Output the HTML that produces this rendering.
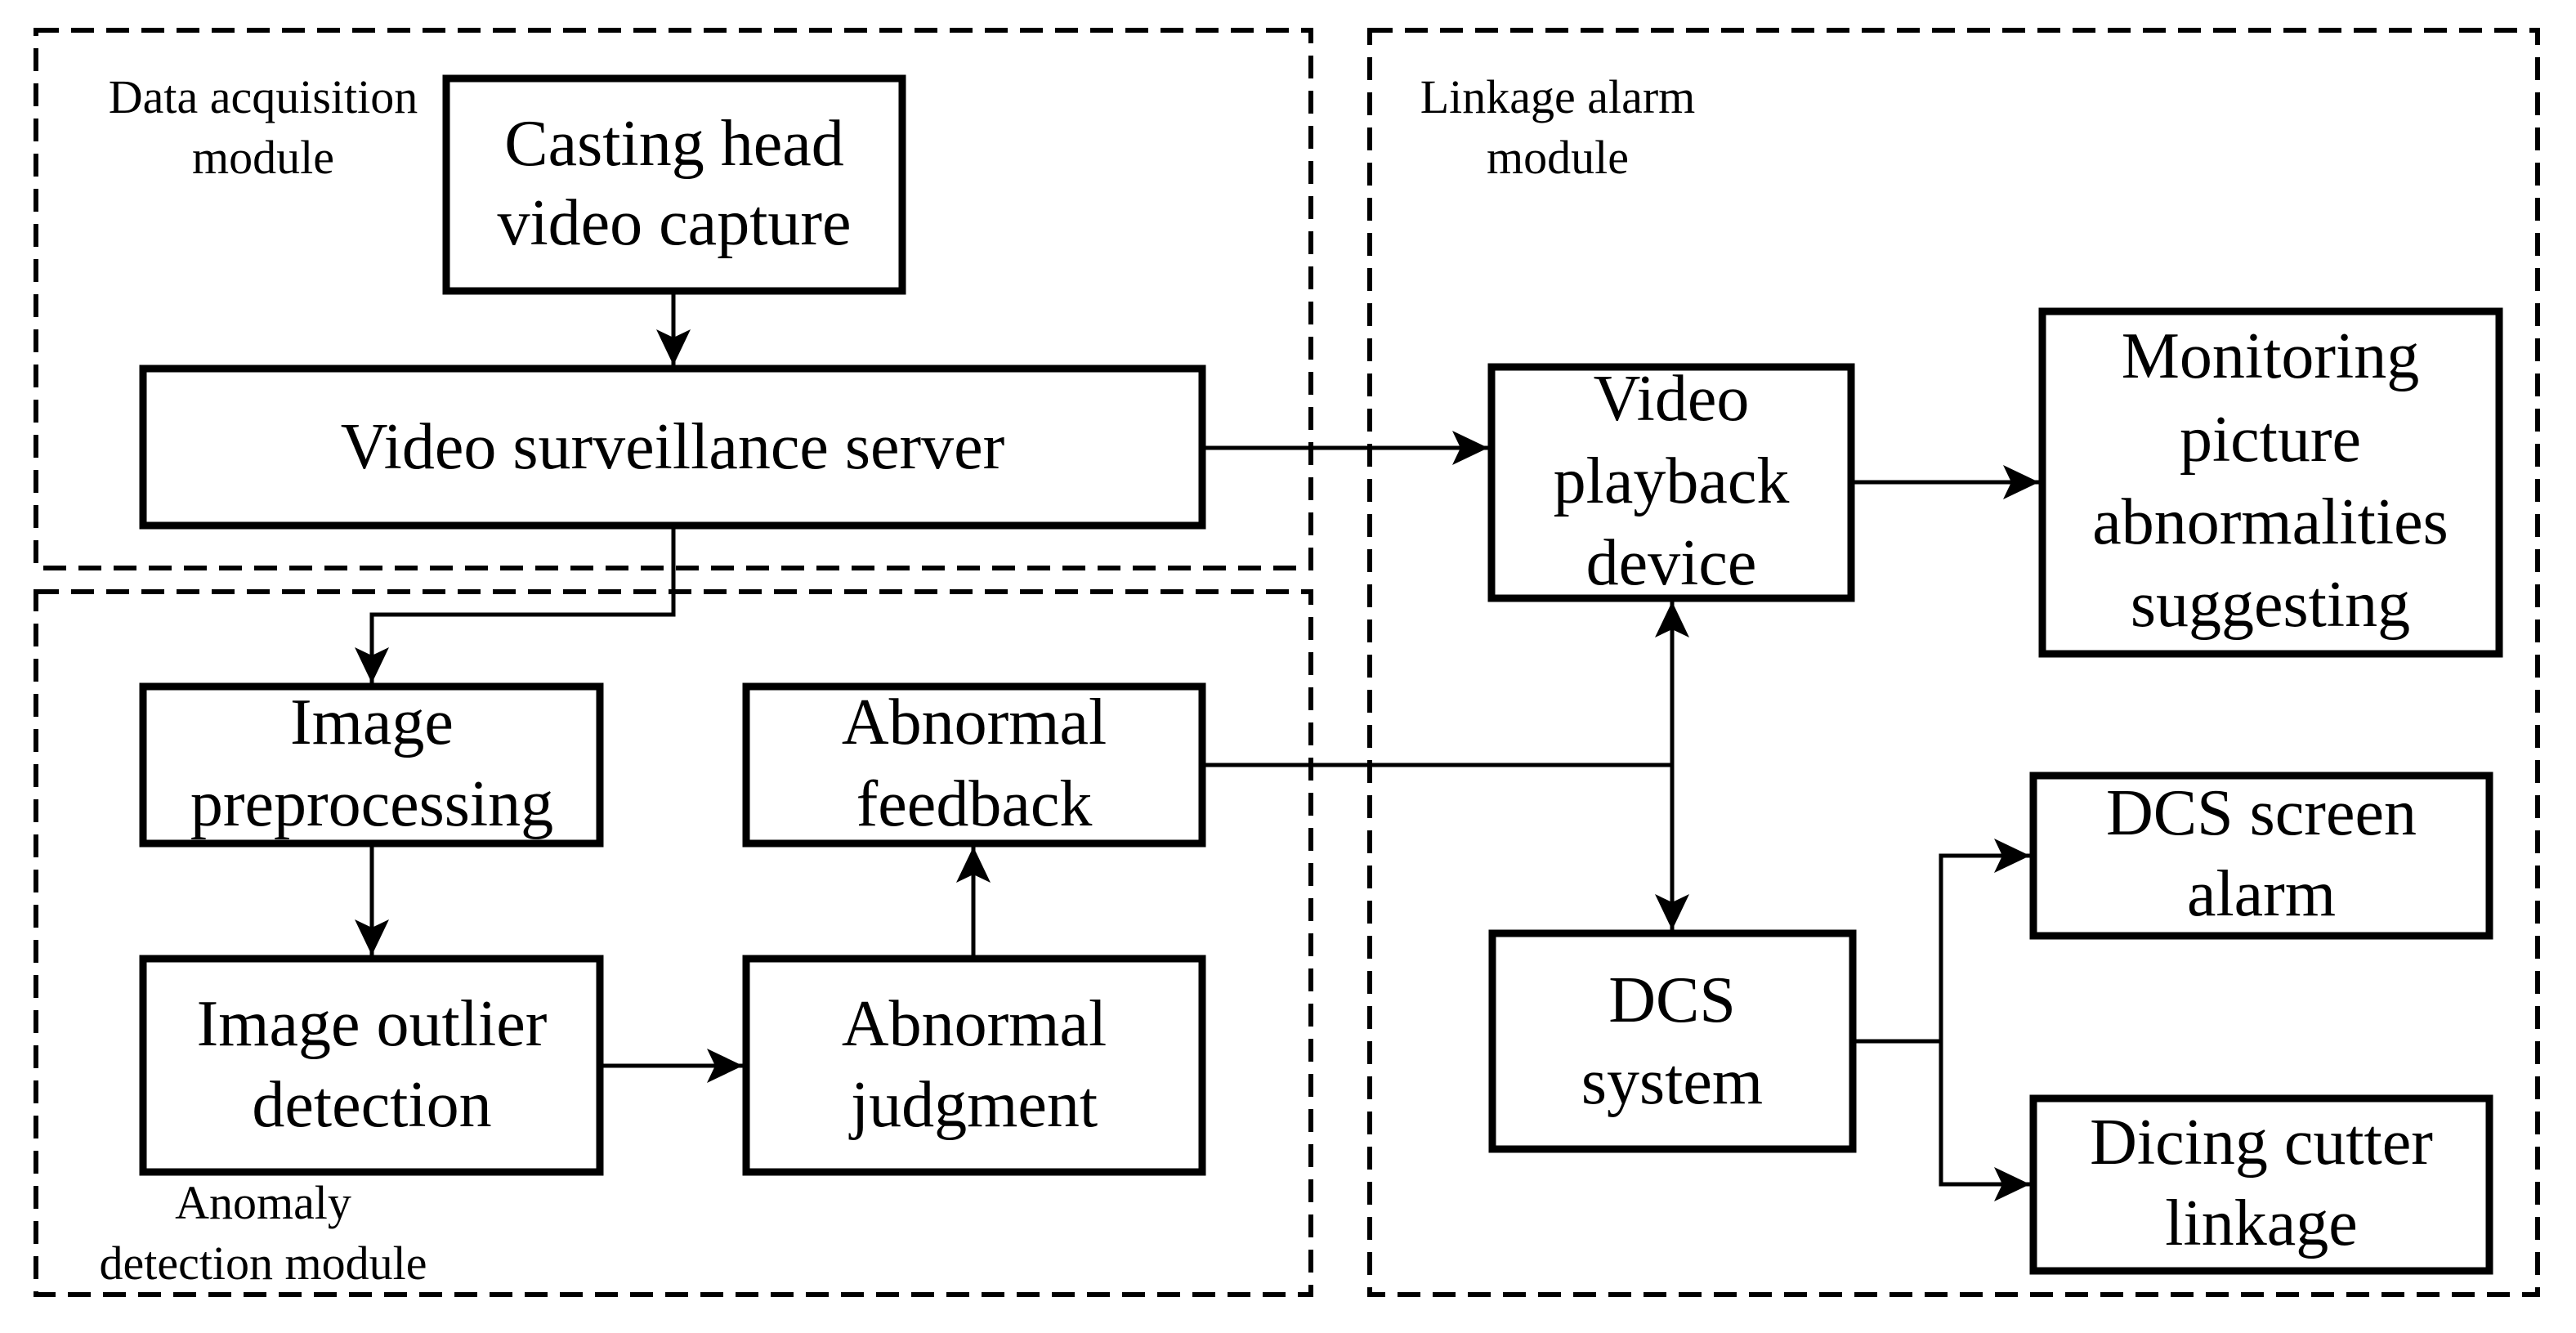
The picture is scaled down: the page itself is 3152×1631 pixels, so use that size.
<!DOCTYPE html>
<html><head><meta charset="utf-8"><style>
html,body{margin:0;padding:0;background:#fff}
svg{display:block}
</style></head><body>
<svg width="3152" height="1631" viewBox="0 0 3152 1631" xmlns="http://www.w3.org/2000/svg">
<defs>
<marker id="a" markerUnits="userSpaceOnUse" markerWidth="48" markerHeight="42" refX="44" refY="21" orient="auto">
<path d="M0,0 L44,21 L0,42 L10,21 Z" fill="#000"/>
</marker>
</defs>
<g fill="none" stroke="#000" stroke-width="6" stroke-dasharray="28,15">
<rect x="44" y="37" width="1560" height="658"/>
<rect x="44" y="724" width="1560" height="860"/>
<rect x="1676" y="37" width="1429" height="1547"/>
</g>
<g fill="none" stroke="#000" stroke-width="9">
<rect x="546" y="96" width="558" height="260"/>
<rect x="175" y="451" width="1296" height="192"/>
<rect x="175" y="840" width="559" height="192"/>
<rect x="913" y="840" width="558" height="192"/>
<rect x="175" y="1173" width="559" height="261"/>
<rect x="913" y="1173" width="558" height="261"/>
<rect x="1825" y="449" width="440" height="283"/>
<rect x="2499" y="381" width="559" height="419"/>
<rect x="1826" y="1142" width="441" height="264"/>
<rect x="2488" y="949" width="558" height="196"/>
<rect x="2488" y="1344" width="558" height="211"/>
</g>
<g fill="none" stroke="#000" stroke-width="5">
<path d="M824,356 V447" marker-end="url(#a)"/>
<path d="M1471,548 H1821" marker-end="url(#a)"/>
<path d="M2265,590 H2495" marker-end="url(#a)"/>
<path d="M824,643 V752 H455 V836" marker-end="url(#a)"/>
<path d="M455,1032 V1169" marker-end="url(#a)"/>
<path d="M734,1304 H909" marker-end="url(#a)"/>
<path d="M1191,1173 V1036" marker-end="url(#a)"/>
<path d="M1471,936 H2046"/>
<path d="M2046,936 V736" marker-end="url(#a)"/>
<path d="M2046,936 V1138" marker-end="url(#a)"/>
<path d="M2267,1274 H2375"/>
<path d="M2375,1274 V1047 H2484" marker-end="url(#a)"/>
<path d="M2375,1274 V1449 H2484" marker-end="url(#a)"/>
</g>
<g text-anchor="middle" font-family="'Liberation Serif', 'Times New Roman', serif" font-size="80" fill="#000">
<text x="825" y="202">Casting head</text>
<text x="825" y="299">video capture</text>
<text x="823" y="573">Video surveillance server</text>
<text x="455" y="910">Image</text>
<text x="455" y="1010">preprocessing</text>
<text x="1192" y="910">Abnormal</text>
<text x="1192" y="1010">feedback</text>
<text x="455" y="1279">Image outlier</text>
<text x="455" y="1378">detection</text>
<text x="1192" y="1279">Abnormal</text>
<text x="1192" y="1378">judgment</text>
<text x="2045" y="514">Video</text>
<text x="2045" y="615">playback</text>
<text x="2045" y="715">device</text>
<text x="2778" y="462">Monitoring</text>
<text x="2778" y="564">picture</text>
<text x="2778" y="665">abnormalities</text>
<text x="2778" y="766">suggesting</text>
<text x="2046" y="1250">DCS</text>
<text x="2046" y="1350">system</text>
<text x="2767" y="1021">DCS screen</text>
<text x="2767" y="1120">alarm</text>
<text x="2767" y="1424">Dicing cutter</text>
<text x="2767" y="1523">linkage</text>
</g>
<g text-anchor="middle" font-family="'Liberation Serif', 'Times New Roman', serif" font-size="58" fill="#000">
<text x="322" y="138">Data acquisition</text>
<text x="322" y="212">module</text>
<text x="1906" y="138">Linkage alarm</text>
<text x="1906" y="212">module</text>
<text x="322" y="1491">Anomaly</text>
<text x="322" y="1565">detection module</text>
</g>
</svg>
</body></html>
